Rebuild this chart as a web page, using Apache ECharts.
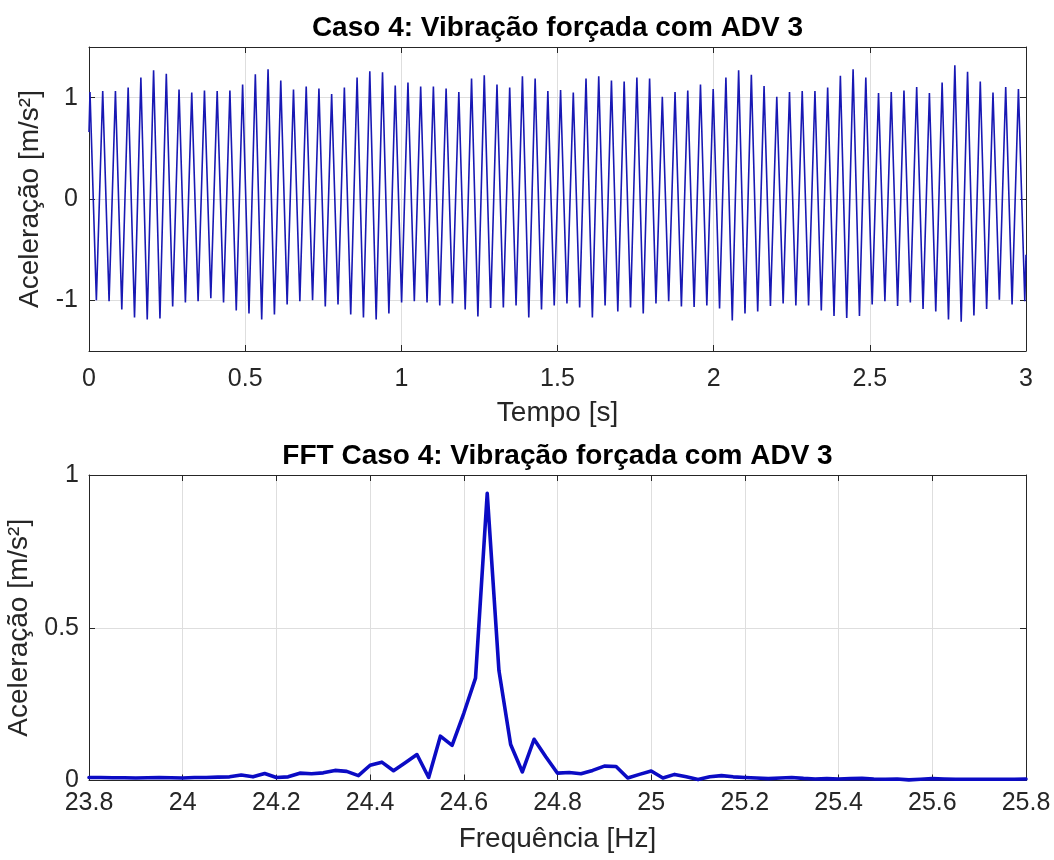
<!DOCTYPE html>
<html>
<head>
<meta charset="utf-8">
<script src="https://cdn.jsdelivr.net/npm/echarts@6/dist/echarts.min.js"></script>
<style>
html,body{margin:0;padding:0;background:#fff;}
#chart{width:1054px;height:860px;}
</style>
</head>
<body>
<div id="chart"></div>
<script>
// ---------- Data: time signal ----------
const timeStart = 0;
const timeEnd = 3;
const startValue = 0.66;   // value at t = 0
const endValue = -0.55;    // value at t = 3
const firstExtremumTime = 0.0032; // s, time of first peak
const halfPeriod = 0.02036;       // s, time between successive extrema
const peaks = [
  1.055, 1.065, 1.065, 1.10, 1.20, 1.27, 1.235, 1.08, 1.05, 1.07,
  1.065, 1.07, 1.13, 1.23, 1.28, 1.17, 1.08, 1.11, 1.09, 1.035,
  1.10, 1.20, 1.26, 1.25, 1.12, 1.15, 1.11, 1.11, 1.09, 1.055,
  1.19, 1.22, 1.13, 1.10, 1.21, 1.19, 1.065, 1.075, 1.05, 1.19,
  1.21, 1.17, 1.16, 1.20, 1.19, 1.01, 1.055, 1.07, 1.13, 1.085,
  1.20, 1.27, 1.225, 1.115, 1.01, 1.055, 1.065, 1.065, 1.10, 1.215,
  1.28, 1.20, 1.045, 1.055, 1.07, 1.105, 1.045, 1.15, 1.32, 1.255,
  1.16, 1.05, 1.105, 1.085
];
const troughs = [
  -1.00, -1.01, -1.09, -1.17, -1.19, -1.18, -1.06, -1.02, -1.01, -0.98,
  -1.02, -1.10, -1.13, -1.19, -1.14, -1.04, -1.01, -1.00, -1.06, -1.04,
  -1.14, -1.17, -1.19, -1.13, -1.02, -1.01, -1.02, -1.05, -1.03, -1.09,
  -1.16, -1.075, -1.07, -1.05, -1.17, -1.09, -1.05, -1.03, -1.07, -1.17,
  -1.05, -1.11, -1.07, -1.13, -1.03, -1.01, -1.06, -1.065, -1.05, -1.08,
  -1.20, -1.13, -1.11, -1.055, -1.03, -1.05, -1.05, -1.10, -1.155, -1.175,
  -1.155, -1.04, -1.01, -1.055, -1.02, -1.085, -1.11, -1.19, -1.21, -1.15,
  -1.085, -0.995, -1.04, -1.01
];

// ---------- Data: FFT spectrum ----------
const freqs = [
  23.800, 23.825, 23.850, 23.875, 23.900, 23.925, 23.950, 23.975, 24.000, 24.025,
  24.050, 24.075, 24.100, 24.125, 24.150, 24.175, 24.200, 24.225, 24.250, 24.275,
  24.300, 24.325, 24.350, 24.375, 24.400, 24.425, 24.450, 24.475, 24.500, 24.525,
  24.550, 24.575, 24.600, 24.625, 24.650, 24.675, 24.700, 24.725, 24.750, 24.775,
  24.800, 24.825, 24.850, 24.875, 24.900, 24.925, 24.950, 24.975, 25.000, 25.025,
  25.050, 25.075, 25.100, 25.125, 25.150, 25.175, 25.200, 25.225, 25.250, 25.275,
  25.300, 25.325, 25.350, 25.375, 25.400, 25.425, 25.450, 25.475, 25.500, 25.525,
  25.550, 25.575, 25.600, 25.625, 25.650, 25.675, 25.700, 25.725, 25.750, 25.775,
  25.800
];
const amps = [
  0.010, 0.010, 0.009, 0.009, 0.008, 0.009, 0.010, 0.009, 0.008, 0.010,
  0.010, 0.011, 0.012, 0.018, 0.012, 0.023, 0.010, 0.012, 0.024, 0.022,
  0.025, 0.033, 0.030, 0.016, 0.050, 0.060, 0.032, 0.058, 0.085, 0.010,
  0.145, 0.115, 0.220, 0.335, 0.940, 0.360, 0.118, 0.028, 0.135, 0.078,
  0.024, 0.026, 0.022, 0.033, 0.047, 0.046, 0.008, 0.020, 0.031, 0.008,
  0.020, 0.012, 0.003, 0.012, 0.016, 0.012, 0.010, 0.008, 0.006, 0.008,
  0.010, 0.007, 0.005, 0.006, 0.005, 0.006, 0.007, 0.005, 0.004, 0.005,
  0.002, 0.004, 0.006, 0.005, 0.004, 0.004, 0.004, 0.004, 0.004, 0.004,
  0.005
];

// ---------- Tick labels ----------
const timeTicks = [0, 0.5, 1, 1.5, 2, 2.5, 3];
const accTicks = [-1, 0, 1];
const freqTicks = [23.8, 24, 24.2, 24.4, 24.6, 24.8, 25, 25.2, 25.4, 25.6, 25.8];
const fftAccTicks = [0, 0.5, 1];

const titleTop = 'Caso 4: Vibração forçada com ADV 3';
const titleBottom = 'FFT Caso 4: Vibração forçada com ADV 3';
const yName = 'Aceleração [m/s²]';
const xNameTop = 'Tempo [s]';
const xNameBottom = 'Frequência [Hz]';

// ---------- Build series data ----------
const timeData = [[timeStart, startValue]];
for (let k = 0; k < peaks.length; k++) {
  timeData.push([firstExtremumTime + 2 * k * halfPeriod, peaks[k]]);
  timeData.push([firstExtremumTime + (2 * k + 1) * halfPeriod, troughs[k]]);
}
timeData.push([timeEnd, endValue]);
const fftData = freqs.map((f, i) => [f, amps[i]]);

// ---------- Styling ----------
const FONT = '"Liberation Sans", Arial, Helvetica, sans-serif';
const AX = '#262626';
const GRID = '#dedede';
const tickLabel = {fontSize: 25, color: AX, fontFamily: FONT};
const nameText = {fontSize: 28, color: AX, fontFamily: FONT};

function mainX(grid, min, max, interval, name, nameGap, margin) {
  return {
    type: 'value', gridIndex: grid, min: min, max: max, interval: interval,
    name: name, nameLocation: 'middle', nameGap: nameGap, nameTextStyle: nameText,
    axisLine: {show: true, onZero: false, lineStyle: {color: AX, width: 1}},
    axisTick: {show: true, inside: true, length: 6, lineStyle: {color: AX}},
    axisLabel: Object.assign({margin: margin, showMinLabel: true, showMaxLabel: true,
      formatter: v => String(+v.toFixed(2))}, tickLabel),
    splitLine: {show: true, lineStyle: {color: GRID, width: 1}}
  };
}
function mirrorX(grid, min, max, interval) {
  return {
    type: 'value', gridIndex: grid, position: 'top', min: min, max: max, interval: interval,
    axisLine: {show: true, onZero: false, lineStyle: {color: AX, width: 1}},
    axisTick: {show: true, inside: true, length: 6, lineStyle: {color: AX}},
    axisLabel: {show: false}, splitLine: {show: false}
  };
}
function mainY(grid, min, max, interval, ticks, nameGap, margin) {
  return {
    type: 'value', gridIndex: grid, min: min, max: max, interval: interval,
    name: yName, nameLocation: 'middle', nameGap: nameGap, nameTextStyle: nameText,
    axisLine: {show: true, onZero: false, lineStyle: {color: AX, width: 1}},
    axisTick: {show: true, inside: true, length: 6, lineStyle: {color: AX}, customValues: ticks},
    axisLabel: Object.assign({margin: margin, customValues: ticks,
      formatter: v => (ticks.some(t => Math.abs(t - v) < 1e-9) ? String(+v.toFixed(2)) : '')}, tickLabel),
    splitLine: {show: true, lineStyle: {color: GRID, width: 1}}
  };
}
function mirrorY(grid, min, max, interval, ticks) {
  return {
    type: 'value', gridIndex: grid, position: 'right', min: min, max: max, interval: interval,
    axisLine: {show: true, onZero: false, lineStyle: {color: AX, width: 1}},
    axisTick: {show: true, inside: true, length: 6, lineStyle: {color: AX}, customValues: ticks},
    axisLabel: {show: false}, splitLine: {show: false}
  };
}

const chart = echarts.init(document.getElementById('chart'), null, {renderer: 'canvas'});
chart.setOption({
  animation: false,
  backgroundColor: '#ffffff',
  title: [
    {text: titleTop, left: 557.5, top: 14, textAlign: 'center', padding: 0,
     textStyle: {fontSize: 28, fontWeight: 'bold', color: '#000', fontFamily: FONT}},
    {text: titleBottom, left: 557.5, top: 442, textAlign: 'center', padding: 0,
     textStyle: {fontSize: 28, fontWeight: 'bold', color: '#000', fontFamily: FONT}}
  ],
  grid: [
    {left: 89, right: 28, top: 47, height: 304, containLabel: false, outerBoundsMode: 'none'},
    {left: 89, right: 28, top: 475, height: 305.5, containLabel: false, outerBoundsMode: 'none'}
  ],
  xAxis: [
    mainX(0, 0, 3, 0.5, xNameTop, 48, 16),
    mirrorX(0, 0, 3, 0.5),
    mainX(1, 23.8, 25.8, 0.2, xNameBottom, 45, 10),
    mirrorX(1, 23.8, 25.8, 0.2)
  ],
  yAxis: [
    mainY(0, -1.5, 1.5, 0.5, accTicks, 45, 11),
    mirrorY(0, -1.5, 1.5, 0.5, accTicks),
    mainY(1, 0, 1, 0.5, fftAccTicks, 53, 10),
    mirrorY(1, 0, 1, 0.5, fftAccTicks)
  ],
  series: [
    {type: 'line', xAxisIndex: 0, yAxisIndex: 0, data: timeData, showSymbol: false,
     lineStyle: {color: '#1818b4', width: 1.6}, silent: true},
    {type: 'line', xAxisIndex: 2, yAxisIndex: 2, data: fftData, showSymbol: false,
     lineStyle: {color: '#0b0bc4', width: 3.6, join: 'round', cap: 'round'}, silent: true}
  ]
});
</script>
</body>
</html>
